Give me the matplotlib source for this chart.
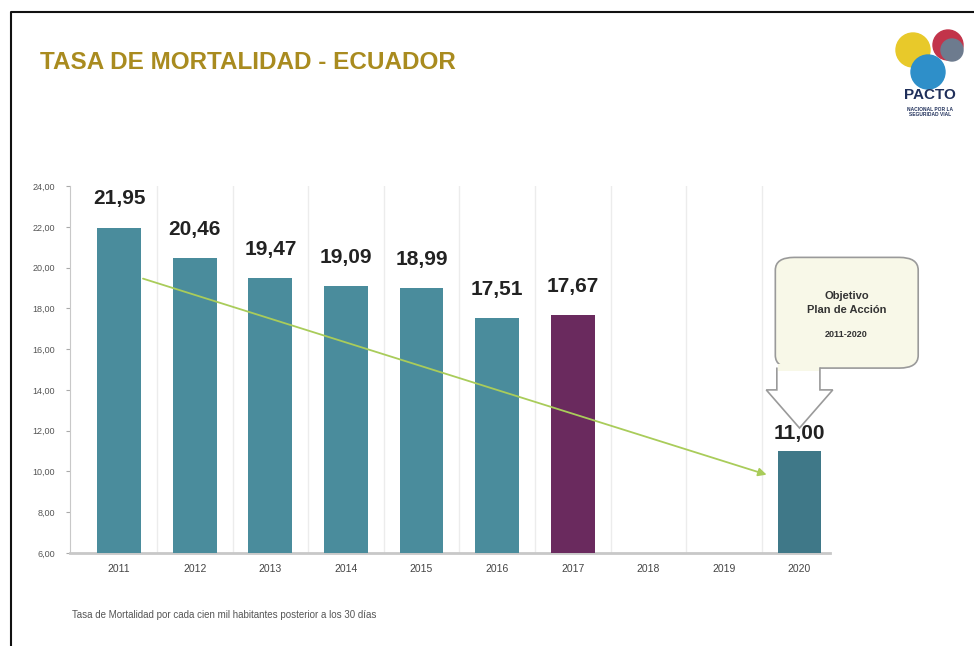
import matplotlib.pyplot as plt
from matplotlib.patches import FancyBboxPatch, Polygon, Circle, Rectangle
from matplotlib.lines import Line2D

years = ['2011', '2012', '2013', '2014', '2015', '2016', '2017', '2018', '2019', '2020']
rates = [21.95, 20.46, 19.47, 19.09, 18.99, 17.51, 17.67, None, None, 11.00]
labels = ['21,95', '20,46', '19,47', '19,09', '18,99', '17,51', '17,67', '', '', '11,00']
bar_colors = ['#4a8c9c'] * 6 + ['#6a2a5e', '#4a8c9c', '#4a8c9c', '#3f7888']
yticks = [6, 8, 10, 12, 14, 16, 18, 20, 22, 24]

plt.rcParams['font.family'] = ['Liberation Sans', 'DejaVu Sans']

fig = plt.figure(figsize=(9.74, 6.46), dpi=100)
ax = fig.add_axes([0.0719, 0.144, 0.780, 0.568])

x = list(range(len(years)))
for i, v in enumerate(rates):
    if v is None:
        continue
    ax.bar(i, v - 6, bottom=6, width=0.58, color=bar_colors[i], zorder=3)
    ax.annotate(labels[i], (i, v), xytext=(0, 14 if i != 9 else 6), textcoords='offset points',
                ha='center', va='bottom', fontsize=15, fontweight='bold', color='#222222')

# category separators
for i in range(len(years) - 1):
    ax.axvline(i + 0.5, color='#ececec', lw=1, zorder=1)

ax.set_xlim(-0.65, 9.4)
ax.set_ylim(6, 24)
ax.set_yticks(yticks)
ax.set_yticklabels(['%d,00' % t for t in yticks], fontsize=6.5, color='#555555')
ax.set_xticks(x)
ax.set_xticklabels(years, fontsize=7.5, color='#444444')
ax.tick_params(axis='x', length=0, pad=8)
ax.tick_params(axis='y', length=3, color='#aaaaaa', pad=8)
for s in ['top', 'right']:
    ax.spines[s].set_visible(False)
ax.spines['left'].set_color('#c8c8c8')
ax.spines['bottom'].set_color('#c8c8c8')
ax.spines['bottom'].set_linewidth(2)

# trend arrow
ax.annotate('', xy=(8.6, 9.8), xytext=(0.28, 19.5),
            arrowprops=dict(arrowstyle='-|>', color='#a9cc5a', lw=1.3, mutation_scale=12), zorder=4)

# callout box
box = FancyBboxPatch((8.68, 15.07), 1.89, 5.43, boxstyle='round,pad=0,rounding_size=0.25',
                     mutation_aspect=2.5, facecolor='#f8f8e8', edgecolor='#9a9a9a', lw=1.2,
                     clip_on=False, zorder=5)
ax.add_patch(box)
arrow = Polygon([(8.70, 15.1), (8.70, 14.0), (8.56, 14.0), (9.0, 12.13), (9.44, 14.0),
                 (9.27, 14.0), (9.27, 15.1)], closed=False, facecolor='#ffffff',
                edgecolor='#9a9a9a', lw=1.2, clip_on=False, zorder=6)
ax.add_patch(arrow)
ax.add_patch(Rectangle((8.71, 14.95), 0.55, 0.3, facecolor='#f8f8e8', edgecolor='none',
                       clip_on=False, zorder=7))
ax.text(9.62, 18.6, 'Objetivo', ha='center', va='center', fontsize=8, fontweight='bold',
        color='#333333', zorder=8)
ax.text(9.62, 17.9, 'Plan de Acción', ha='center', va='center', fontsize=8, fontweight='bold',
        color='#333333', zorder=8)
ax.text(9.62, 16.7, '2011-2020', ha='center', va='center', fontsize=6.5, fontweight='bold',
        color='#333333', zorder=8)

# title and caption
fig.text(0.041, 0.904, 'TASA DE MORTALIDAD - ECUADOR', fontsize=17.5, color='#a98b1f',
         fontweight='bold', va='center')
fig.text(0.074, 0.048, 'Tasa de Mortalidad por cada cien mil habitantes posterior a los 30 días',
         fontsize=7, color='#555555', va='center')

# logo (simplified), in inches so circles stay round
tr = fig.dpi_scale_trans
fig.patches.append(Circle((9.13, 5.96), 0.17, transform=tr, color='#e8c92a'))
fig.patches.append(Circle((9.48, 6.01), 0.15, transform=tr, color='#c2344a'))
fig.patches.append(Circle((9.52, 5.96), 0.11, transform=tr, color='#6d7b8e'))
fig.patches.append(Circle((9.28, 5.74), 0.17, transform=tr, color='#2e8fc9'))
fig.text(9.30, 5.51, 'PACTO', transform=tr, fontsize=11, fontweight='bold', color='#1f2f5a',
         ha='center', va='center')
fig.text(9.30, 5.34, 'NACIONAL POR LA\nSEGURIDAD VIAL', transform=tr, fontsize=3.5,
         fontweight='bold', color='#1f2f5a', ha='center', va='center', linespacing=1.1)

# frame on left and top
fig.lines.append(Line2D([0.011, 0.011, 1.0], [0.0, 0.982, 0.982], transform=fig.transFigure,
                        color='#111111', lw=1.5))

fig.savefig('out.png', dpi=100, facecolor='white')
